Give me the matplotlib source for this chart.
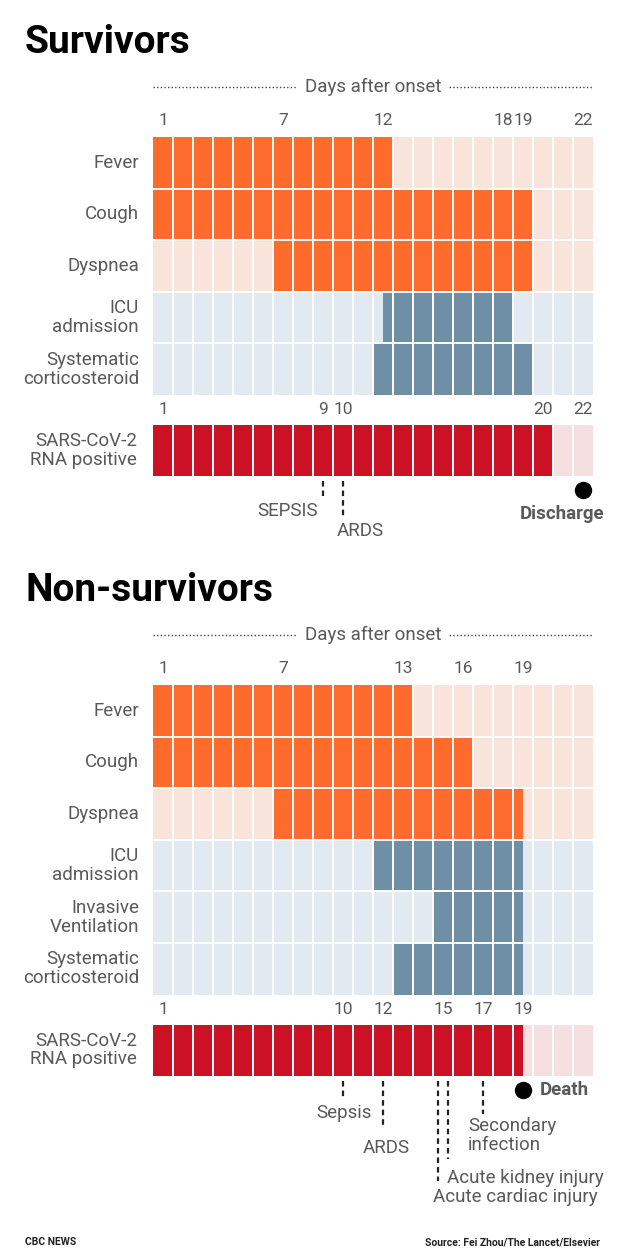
"""
Timeline of symptoms, treatment and outcomes for COVID-19 survivors and
non-survivors (after Fei Zhou / The Lancet). Saves out.png.
"""

import numpy as np
import matplotlib
matplotlib.use("Agg")
import matplotlib.pyplot as plt

plt.rcParams["font.family"] = ["Roboto", "DejaVu Sans"]

# ---- data ----
DAYS = 22

SURV_ROWS = ["Fever", "Cough", "Dyspnea", "ICU\nadmission", "Systematic\ncorticosteroid"]
SURV_START = [0, 0, 6, 11.5, 11]
SURV_END = [12, 19, 19, 18, 19]
SURV_GROUP = ["symptom", "symptom", "symptom", "care", "care"]
SURV_TICKS = [1, 7, 12, 18, 19, 22]
SURV_RNA_END = 20
SURV_RNA_TICKS = [1, 9, 10, 20, 22]
SURV_EVENTS = ["SEPSIS", "ARDS"]
SURV_EVENT_DAYS = [9, 10]
SURV_OUTCOME = "Discharge"
SURV_OUTCOME_DAY = 22

NON_ROWS = ["Fever", "Cough", "Dyspnea", "ICU\nadmission",
            "Invasive\nVentilation", "Systematic\ncorticosteroid"]
NON_START = [0, 0, 6, 11, 14, 12]
NON_END = [13, 16, 18.5, 18.5, 18.5, 18.5]
NON_GROUP = ["symptom", "symptom", "symptom", "care", "care", "care"]
NON_TICKS = [1, 7, 13, 16, 19]
NON_RNA_END = 18.5
NON_RNA_TICKS = [1, 10, 12, 15, 17, 19]
NON_EVENTS = ["Sepsis", "ARDS", "Acute kidney injury", "Acute cardiac injury",
              "Secondary\ninfection"]
NON_EVENT_DAYS = [10, 12, 15, 15, 17]
NON_OUTCOME = "Death"
NON_OUTCOME_DAY = 19

# ---- layout / style ----
W, H = 620, 1255
GRID_X0, GRID_X1 = 153, 593
CELL = (GRID_X1 - GRID_X0) / DAYS
ROW_H = 51.6
RNA_H = 51
RNA_GAP = 30

FG = {"symptom": "#FF6B2C", "care": "#6E8FA5", "rna": "#CC1126"}
BG = {"symptom": "#F8E4DA", "care": "#E3E9F1", "rna": "#F6DFE0"}
GREY = "#595959"
FS = 13.5
LBL = dict(fontsize=FS, color=GREY)
NUM = dict(fontsize=12.5, color=GREY)

# per event: x nudge (px), line length (px), label dx (px), label dy (px), ha
SURV_EV_LAYOUT = [(0, 15, -5, 35, "right"), (0, 36, -6, 55, "left")]
NON_EV_LAYOUT = [(0, 17, 1, 37, "center"), (0, 47, 3, 72, "center"),
                 (-5, 100, 9, 102, "left"), (5, 78, -15, 121, "left"),
                 (0, 33, -15, 60, "left")]

fig = plt.figure(figsize=(W / 100, H / 100), dpi=100)
fig.patch.set_facecolor("white")


def draw_panel(grid_top, title, rows, starts, ends, groups, ticks, rna_end,
               rna_ticks, events, event_days, ev_layout, outcome, outcome_day,
               out_dx, out_dy, out_ha):
    n = len(rows)
    grid_h = n * ROW_H
    rna_top = grid_h + RNA_GAP
    rna_bot = rna_top + RNA_H
    above, below = 100, rna_bot + 140
    ax = fig.add_axes([GRID_X0 / W, 1 - (grid_top + below) / H,
                       (GRID_X1 - GRID_X0) / W, (above + below) / H])
    ax.set_xlim(0, DAYS)
    ax.set_ylim(below, -above)
    ax.axis("off")

    fig.text(25 / W, 1 - (grid_top - 84) / H, title, fontsize=28,
             fontweight="bold", color="black", va="baseline")

    # "Days after onset" header
    ax.plot([0, DAYS], [-50, -50], ls=(0, (1, 1.6)), lw=1, color="#444444")
    ax.text(DAYS / 2, -50, "Days after onset", ha="center", va="center",
            bbox=dict(fc="white", ec="none", pad=5), **LBL)

    for d in ticks:
        ax.text(d - 0.5, -16, str(d), ha="center", va="center", **NUM)

    # symptom / treatment rows
    yc = np.arange(n) * ROW_H + ROW_H / 2
    for i in range(n):
        g = groups[i]
        ax.barh(yc[i], DAYS, left=0, height=ROW_H, color=BG[g], lw=0)
        ax.barh(yc[i], ends[i] - starts[i], left=starts[i], height=ROW_H,
                color=FG[g], lw=0)
        ax.text(-0.7, yc[i], rows[i], ha="right", va="center",
                linespacing=1.05, **LBL)
    ax.vlines(np.arange(1, DAYS), 0, grid_h, color="white", lw=1.4)
    ax.hlines(np.arange(1, n) * ROW_H, 0, DAYS, color="white", lw=1.4)

    # RNA row
    rc = rna_top + RNA_H / 2
    ax.barh(rc, DAYS, left=0, height=RNA_H, color=BG["rna"], lw=0)
    ax.barh(rc, rna_end, left=0, height=RNA_H, color=FG["rna"], lw=0)
    ax.vlines(np.arange(1, DAYS), rna_top, rna_bot, color="white", lw=1.4)
    ax.text(-0.8, rc, "SARS-CoV-2\nRNA positive", ha="right", va="center",
            linespacing=1.05, **LBL)
    for d in rna_ticks:
        ax.text(d - 0.5, rna_top - 15, str(d), ha="center", va="center", **NUM)

    # events
    for name, d, (nx, ln, dx, dy, ha) in zip(events, event_days, ev_layout):
        x = d - 0.5 + nx / CELL
        ax.plot([x, x], [rna_bot + 5, rna_bot + 5 + ln], ls=(0, (2.5, 1.8)),
                lw=1.6, color="#222222")
        ax.text(x + dx / CELL, rna_bot + dy, name, ha=ha, va="center",
                linespacing=1.05, **LBL)

    # outcome
    ox = outcome_day - 0.5
    ax.plot([ox], [rna_bot + 14], "o", ms=11.5, color="black", clip_on=False)
    ax.text(ox + out_dx / CELL, rna_bot + out_dy, outcome, ha=out_ha,
            va="center", fontsize=FS, fontweight="bold", color=GREY)


draw_panel(137, "Survivors", SURV_ROWS, SURV_START, SURV_END, SURV_GROUP,
           SURV_TICKS, SURV_RNA_END, SURV_RNA_TICKS, SURV_EVENTS,
           SURV_EVENT_DAYS, SURV_EV_LAYOUT, SURV_OUTCOME, SURV_OUTCOME_DAY,
           -21, 38, "center")
draw_panel(685, "Non-survivors", NON_ROWS, NON_START, NON_END, NON_GROUP,
           NON_TICKS, NON_RNA_END, NON_RNA_TICKS, NON_EVENTS,
           NON_EVENT_DAYS, NON_EV_LAYOUT, NON_OUTCOME, NON_OUTCOME_DAY,
           17, 14, "left")

fig.text(25 / W, 1 - 1242 / H, "CBC NEWS", fontsize=7.5, fontweight="bold",
         color="#222222", va="center")
fig.text(600 / W, 1 - 1242 / H, "Source: Fei Zhou/The Lancet/Elsevier",
         fontsize=7.5, fontweight="bold", color="#222222", va="center",
         ha="right")

fig.savefig("out.png", dpi=100)
